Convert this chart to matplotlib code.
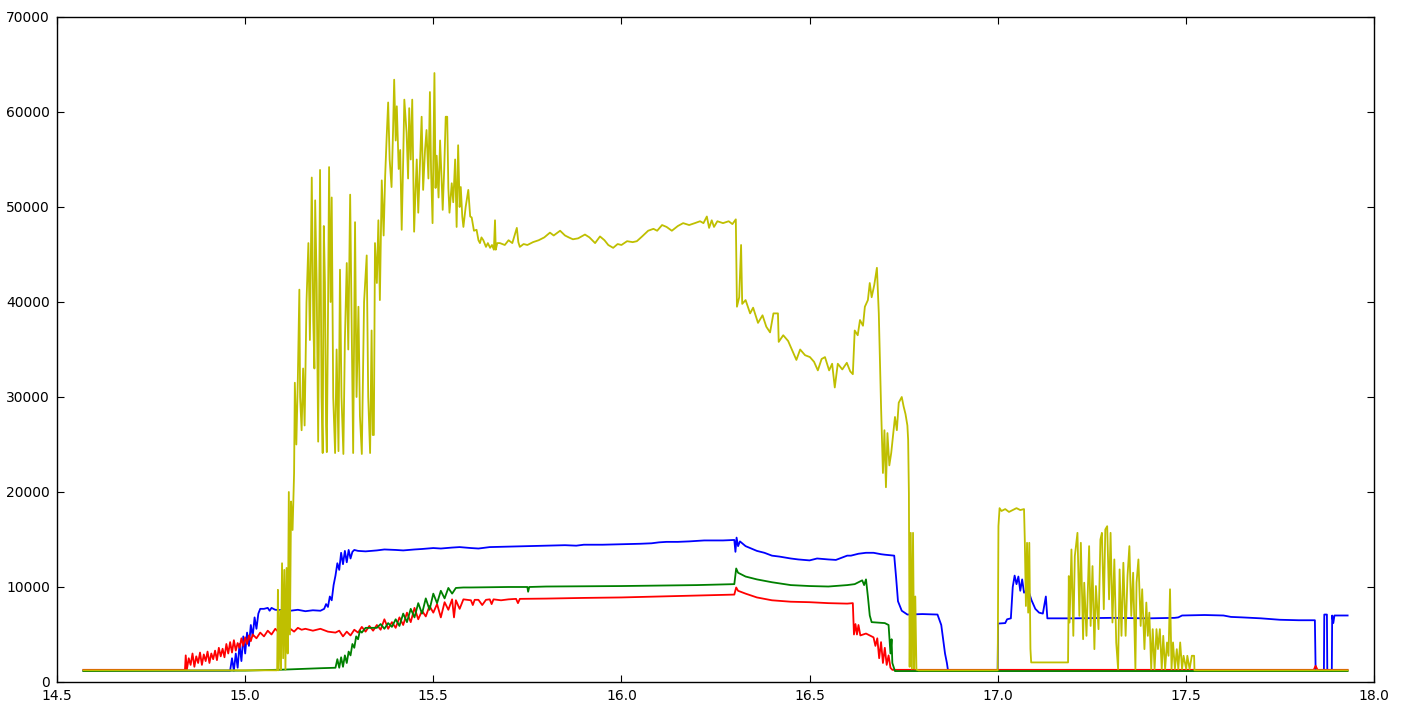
import matplotlib
matplotlib.use('Agg')
import matplotlib.pyplot as plt
from matplotlib.ticker import FormatStrFormatter, MultipleLocator

# --- channel traces (time vs. counts) ---
blue_x = [14.57, 14.96, 14.965, 14.97, 14.975, 14.98, 14.985, 14.99, 14.995, 15.0,
          15.005, 15.01, 15.015, 15.02, 15.025, 15.03, 15.035, 15.04, 15.05, 15.06,
          15.065, 15.07, 15.08, 15.1, 15.12, 15.14, 15.16, 15.18, 15.2, 15.21,
          15.215, 15.22, 15.225, 15.23, 15.235, 15.24, 15.245, 15.25, 15.255, 15.26,
          15.265, 15.27, 15.275, 15.28, 15.285, 15.29, 15.3, 15.32, 15.35, 15.37,
          15.4, 15.42, 15.45, 15.47, 15.5, 15.52, 15.55, 15.57, 15.6, 15.62,
          15.65, 15.7, 15.75, 15.8, 15.85, 15.88, 15.9, 15.95, 16.0, 16.05,
          16.08, 16.1, 16.12, 16.15, 16.18, 16.2, 16.22, 16.25, 16.27, 16.3,
          16.303, 16.306, 16.31, 16.315, 16.33, 16.36, 16.38, 16.4, 16.42, 16.45,
          16.47, 16.5, 16.52, 16.55, 16.57, 16.6, 16.61, 16.63, 16.65, 16.67,
          16.69, 16.7, 16.725, 16.73, 16.735, 16.745, 16.76, 16.8, 16.84, 16.85,
          16.86, 16.865, 16.868, 17.0, 17.001, 17.02, 17.025, 17.035, 17.04, 17.045,
          17.05, 17.055, 17.06, 17.065, 17.07, 17.08, 17.09, 17.1, 17.11, 17.12,
          17.128, 17.132, 17.2, 17.3, 17.4, 17.47, 17.48, 17.49, 17.55, 17.6,
          17.62, 17.65, 17.7, 17.75, 17.8, 17.843, 17.845, 17.867, 17.868, 17.875,
          17.876, 17.888, 17.889, 17.892, 17.895, 17.93]
blue_y = [1200, 1200, 2500, 1200, 3000, 1500, 4000, 2200, 4800, 3000,
          5200, 3800, 6000, 4800, 6800, 5600, 7200, 7700, 7700, 7800,
          7500, 7800, 7600, 7550, 7500, 7600, 7450, 7550, 7500, 7700,
          8200, 7900, 9000, 8600, 10200, 11200, 12500, 11800, 13600, 12400,
          13800, 12600, 13900, 13000, 13700, 13900, 13800, 13750, 13850, 13950,
          13900, 13850, 13950, 14000, 14100, 14050, 14150, 14200, 14100, 14050,
          14200, 14250, 14300, 14350, 14400, 14350, 14450, 14450, 14500, 14550,
          14600, 14700, 14750, 14750, 14800, 14850, 14900, 14900, 14900, 14950,
          13700, 15200, 14300, 14800, 14300, 13800, 13600, 13300, 13200, 13000,
          12900, 12800, 13000, 12900, 12850, 13300, 13300, 13500, 13600, 13600,
          13450, 13400, 13300, 11000, 8500, 7500, 7100, 7150, 7100, 6000,
          3000, 2000, 1200, 1200, 6150, 6200, 6600, 6700, 10000, 11200,
          10300, 11100, 9600, 10800, 9400, 9800, 8600, 7700, 7300, 7200,
          9000, 6700, 6700, 6750, 6700, 6750, 6800, 7000, 7050, 7000,
          6850, 6800, 6700, 6550, 6500, 6500, 1200, 1200, 7100, 7100,
          1200, 1200, 7000, 6200, 7000, 7000]

red_x = [14.57, 14.84, 14.842, 14.845, 14.85, 14.855, 14.86, 14.865, 14.87, 14.875,
         14.88, 14.885, 14.89, 14.895, 14.9, 14.905, 14.91, 14.915, 14.92, 14.925,
         14.93, 14.935, 14.94, 14.945, 14.95, 14.955, 14.96, 14.965, 14.97, 14.975,
         14.98, 14.985, 14.99, 14.995, 15.0, 15.005, 15.01, 15.015, 15.02, 15.03,
         15.04, 15.05, 15.06, 15.07, 15.08, 15.09, 15.1, 15.11, 15.12, 15.13,
         15.14, 15.15, 15.16, 15.18, 15.2, 15.22, 15.24, 15.25, 15.26, 15.27,
         15.28, 15.29, 15.3, 15.31, 15.32, 15.33, 15.34, 15.35, 15.36, 15.37,
         15.38, 15.39, 15.4, 15.41, 15.42, 15.43, 15.44, 15.45, 15.46, 15.47,
         15.48, 15.49, 15.5, 15.51, 15.52, 15.53, 15.54, 15.55, 15.555, 15.56,
         15.57, 15.58, 15.6, 15.605, 15.61, 15.62, 15.63, 15.64, 15.65, 15.655,
         15.66, 15.68, 15.7, 15.72, 15.725, 15.73, 15.8, 15.9, 16.0, 16.1,
         16.2, 16.3, 16.305, 16.31, 16.33, 16.36, 16.4, 16.45, 16.5, 16.55,
         16.6, 16.615, 16.618, 16.622, 16.626, 16.63, 16.635, 16.65, 16.66, 16.67,
         16.675, 16.68, 16.685, 16.69, 16.695, 16.7, 16.705, 16.71, 16.715, 16.72,
         17.84, 17.845, 17.85, 17.93]
red_y = [1280, 1280, 2800, 1300, 2500, 1800, 3000, 1600, 2700, 2000,
         3100, 1800, 2900, 2200, 3200, 2000, 3000, 2400, 3300, 2300,
         3600, 2700, 3500, 2600, 4000, 3000, 4200, 3100, 4400, 3300,
         4100, 3600, 4600, 3800, 4700, 4000, 4900, 4300, 5000, 4600,
         5200, 4800, 5400, 5000, 5600, 5200, 5700, 5400, 5600, 5300,
         5700, 5500, 5600, 5400, 5600, 5300, 5200, 5400, 4800, 5300,
         4900, 5500, 5200, 5800, 5300, 5900, 5400, 6000, 5500, 6600,
         5600, 6300, 5700, 6800, 6000, 7300, 6300, 7800, 6600, 7500,
         6900, 8000, 7300, 8200, 6800, 8400, 7600, 8700, 6800, 8600,
         7700, 8700, 8600, 8100, 8650, 8650, 8100, 8650, 8700, 8200,
         8700, 8600, 8700, 8750, 8300, 8750, 8780, 8850, 8900, 9000,
         9100, 9200, 9950, 9600, 9300, 8900, 8600, 8450, 8400, 8300,
         8250, 8300, 5000, 6100, 5000, 6000, 4900, 5100, 4900, 4700,
         3800, 4600, 2500, 4200, 2000, 3600, 1800, 2800, 1500, 1280,
         1280, 1700, 1280, 1280]

green_x = [14.57, 15.0, 15.1, 15.2, 15.24, 15.245, 15.25, 15.255, 15.26, 15.265,
           15.27, 15.275, 15.28, 15.285, 15.29, 15.295, 15.3, 15.305, 15.31, 15.32,
           15.35, 15.36, 15.37, 15.38, 15.39, 15.4, 15.41, 15.42, 15.43, 15.44,
           15.45, 15.46, 15.47, 15.48, 15.49, 15.5, 15.51, 15.52, 15.53, 15.54,
           15.55, 15.56, 15.58, 15.6, 15.7, 15.75, 15.752, 15.755, 15.8, 16.0,
           16.2, 16.3, 16.305, 16.31, 16.33, 16.36, 16.4, 16.45, 16.5, 16.55,
           16.6, 16.62, 16.64, 16.645, 16.65, 16.655, 16.66, 16.665, 16.7, 16.71,
           16.715, 16.718, 16.72, 16.727, 17.93]
green_y = [1150, 1200, 1300, 1450, 1500, 2400, 1500, 2600, 1600, 2800,
           2000, 3200, 2800, 4000, 3600, 4800, 4500, 5400, 5200, 5700,
           5700, 6100, 5600, 6200, 5800, 6600, 5900, 7200, 6300, 7700,
           6800, 8300, 7200, 8800, 7600, 9300, 8300, 9600, 8800, 9900,
           9300, 9900, 9950, 9950, 10000, 10000, 9500, 10000, 10050, 10100,
           10200, 10300, 11950, 11500, 11100, 10800, 10500, 10200, 10100, 10050,
           10200, 10300, 10700, 10200, 10800, 9000, 7000, 6300, 6200, 6000,
           3000, 4500, 2000, 1150, 1150]

yellow_x = [14.57, 15.085, 15.087, 15.089, 15.093, 15.095, 15.098, 15.101, 15.104, 15.107,
            15.11, 15.113, 15.116, 15.119, 15.122, 15.126, 15.13, 15.132, 15.136, 15.14,
            15.144, 15.146, 15.15, 15.154, 15.158, 15.163, 15.168, 15.172, 15.177, 15.181,
            15.184, 15.186, 15.19, 15.194, 15.199, 15.203, 15.206, 15.209, 15.212, 15.215,
            15.217, 15.22, 15.223, 15.227, 15.23, 15.234, 15.239, 15.243, 15.248, 15.252,
            15.256, 15.261, 15.265, 15.27, 15.274, 15.279, 15.283, 15.287, 15.292, 15.296,
            15.301, 15.305, 15.31, 15.316, 15.323, 15.327, 15.332, 15.336, 15.339, 15.342,
            15.345, 15.35, 15.354, 15.358, 15.363, 15.368, 15.372, 15.376, 15.38, 15.384,
            15.389, 15.393, 15.396, 15.4, 15.403, 15.408, 15.412, 15.416, 15.42, 15.423,
            15.429, 15.433, 15.436, 15.44, 15.444, 15.449, 15.453, 15.456, 15.46, 15.464,
            15.469, 15.473, 15.478, 15.482, 15.487, 15.491, 15.494, 15.498, 15.503, 15.506,
            15.509, 15.514, 15.518, 15.522, 15.525, 15.529, 15.533, 15.537, 15.54, 15.543,
            15.549, 15.553, 15.558, 15.562, 15.566, 15.57, 15.573, 15.577, 15.58, 15.586,
            15.593, 15.598, 15.602, 15.608, 15.615, 15.62, 15.624, 15.628, 15.633, 15.64,
            15.645, 15.651, 15.656, 15.661, 15.664, 15.666, 15.67, 15.677, 15.69, 15.7,
            15.71, 15.722, 15.726, 15.73, 15.74, 15.75, 15.765, 15.78, 15.795, 15.81,
            15.82, 15.837, 15.85, 15.86, 15.871, 15.885, 15.903, 15.915, 15.93, 15.943,
            15.955, 15.965, 15.978, 15.99, 16.0, 16.015, 16.03, 16.041, 16.055, 16.071,
            16.085, 16.095, 16.108, 16.12, 16.134, 16.15, 16.164, 16.18, 16.195, 16.209,
            16.218, 16.227, 16.233, 16.24, 16.246, 16.255, 16.27, 16.285, 16.295, 16.304,
            16.307, 16.313, 16.318, 16.321, 16.33, 16.342, 16.35, 16.363, 16.375, 16.385,
            16.395, 16.404, 16.416, 16.418, 16.43, 16.443, 16.455, 16.465, 16.475, 16.488,
            16.501, 16.512, 16.522, 16.532, 16.541, 16.552, 16.56, 16.567, 16.575, 16.587,
            16.599, 16.608, 16.615, 16.62, 16.628, 16.634, 16.642, 16.647, 16.655, 16.66,
            16.665, 16.672, 16.679, 16.684, 16.69, 16.695, 16.699, 16.703, 16.707, 16.712,
            16.717, 16.722, 16.727, 16.732, 16.737, 16.745, 16.75, 16.755, 16.76, 16.762,
            16.764, 16.766, 16.769, 16.772, 16.775, 16.778, 16.781, 16.784, 16.79, 17.0,
            17.002, 17.005, 17.01, 17.02, 17.03, 17.04, 17.05, 17.06, 17.07, 17.072,
            17.075, 17.078, 17.081, 17.084, 17.087, 17.089, 17.187, 17.189, 17.191, 17.196,
            17.201, 17.205, 17.212, 17.217, 17.221, 17.227, 17.23, 17.236, 17.243, 17.247,
            17.252, 17.257, 17.261, 17.268, 17.273, 17.277, 17.282, 17.286, 17.291, 17.296,
            17.3, 17.305, 17.31, 17.315, 17.32, 17.324, 17.329, 17.334, 17.34, 17.345,
            17.35, 17.355, 17.36, 17.366, 17.369, 17.374, 17.38, 17.384, 17.39, 17.395,
            17.399, 17.403, 17.408, 17.412, 17.417, 17.422, 17.426, 17.431, 17.436, 17.44,
            17.445, 17.45, 17.454, 17.458, 17.462, 17.466, 17.471, 17.476, 17.48, 17.485,
            17.49, 17.494, 17.501, 17.504, 17.51, 17.516, 17.522, 17.523, 17.93]
yellow_y = [1230, 1230, 9700, 1230, 7500, 1300, 12500, 2500, 11800, 1300,
            12000, 3000, 20000, 5000, 19000, 16000, 22000, 31500, 25000, 32000,
            41300, 30000, 26500, 33000, 27000, 40000, 46200, 36000, 53100, 38000,
            33000, 50700, 42000, 25300, 53900, 30000, 24100, 48000, 42000, 27000,
            24200, 38000, 54200, 40000, 51000, 30000, 24100, 35000, 24300, 43400,
            30000, 24000, 36000, 44100, 35000, 51300, 38000, 24100, 48400, 30000,
            39500, 28000, 24000, 40000, 44900, 30000, 24100, 37000, 26000, 26000,
            46200, 42000, 48600, 40200, 52800, 47000, 53200, 57300, 61000, 55000,
            52100, 58000, 63400, 57000, 60600, 54000, 56000, 47600, 55000, 61300,
            57800, 53000, 60400, 55000, 61300, 47400, 52000, 55000, 49400, 54000,
            59500, 51800, 56000, 58100, 53000, 62100, 54000, 48300, 64100, 52000,
            55400, 51000, 57000, 53000, 49700, 54000, 59500, 59500, 52000, 49400,
            52500, 50500, 55000, 47900, 56500, 50000, 52100, 49000, 47900, 50000,
            51800, 49000, 48900, 47500, 47600, 46500, 46200, 46800, 46500, 45800,
            46200, 45700, 46000, 45500, 48600, 45500, 46200, 46200, 46000, 46500,
            46200, 47800, 46300, 45800, 46100, 46000, 46300, 46500, 46800, 47300,
            47000, 47500, 47000, 46800, 46600, 46700, 47100, 46800, 46200, 46900,
            46500, 46000, 45700, 46100, 46000, 46400, 46300, 46400, 46900, 47500,
            47700, 47500, 48100, 47900, 47500, 48000, 48300, 48100, 48300, 48500,
            48300, 49000, 47800, 48600, 47900, 48500, 48300, 48500, 48200, 48700,
            39500, 40500, 46000, 39800, 40200, 38800, 39400, 37800, 38600, 37400,
            36800, 38800, 38800, 35800, 36500, 35900, 34800, 33900, 35000, 34400,
            34200, 33700, 32800, 34000, 34200, 32800, 33500, 31000, 33500, 32900,
            33600, 32700, 32400, 37000, 36500, 38100, 37500, 39500, 40200, 42000,
            40500, 41800, 43600, 38800, 29000, 22000, 26500, 20500, 26200, 22800,
            24100, 26000, 27900, 26500, 29400, 30000, 29000, 28200, 27000, 25500,
            19900, 1600, 15700, 1400, 15700, 1400, 9000, 1300, 1230, 1230,
            16400, 18300, 18000, 18200, 17900, 18100, 18300, 18100, 18200, 15000,
            8000, 14650, 7300, 14650, 3500, 2060, 2060, 11150, 6260, 13950,
            4860, 13250, 15700, 6960, 14650, 4510, 10450, 4860, 14300, 5900,
            12200, 3460, 10100, 5560, 15000, 15700, 7660, 16050, 16400, 8700,
            15700, 6260, 12900, 4160, 1360, 11850, 4860, 12550, 4860, 11150,
            14300, 6960, 11500, 1360, 10450, 12900, 5900, 9760, 3460, 8360,
            4860, 7300, 1360, 5560, 1360, 5560, 3460, 5560, 1360, 4860,
            1360, 4160, 2760, 9760, 1360, 4160, 1360, 3460, 1360, 4160,
            1360, 2760, 1360, 2760, 1360, 2760, 2760, 1230, 1230]

fig = plt.figure(figsize=(14.05, 7.02), dpi=100)
ax = fig.add_axes([0.0406, 0.0285, 0.9373, 0.9473])

ax.plot(blue_x, blue_y, color='b', linewidth=1.3)
ax.plot(red_x, red_y, color='r', linewidth=1.3)
ax.plot(green_x, green_y, color='g', linewidth=1.3)
ax.plot(yellow_x, yellow_y, color='y', linewidth=1.3)

ax.set_xlim(14.5, 18.0)
ax.set_ylim(0, 70000)
ax.xaxis.set_major_locator(MultipleLocator(0.5))
ax.xaxis.set_major_formatter(FormatStrFormatter('%.1f'))
ax.yaxis.set_major_locator(MultipleLocator(10000))

ax.tick_params(direction='in', top=True, right=True, length=5, width=0.8,
               labelsize=10, pad=5)
for spine in ax.spines.values():
    spine.set_linewidth(1.0)

fig.savefig('out.png', dpi=100)
